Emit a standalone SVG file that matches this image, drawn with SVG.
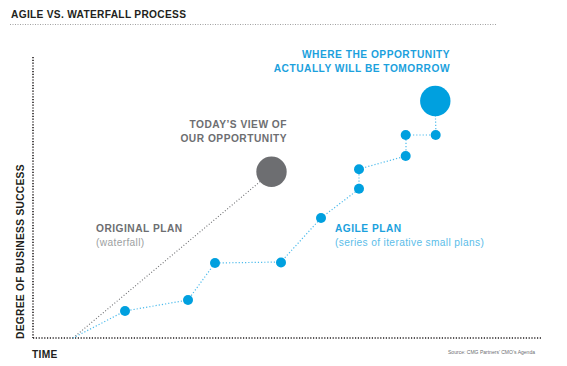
<svg xmlns="http://www.w3.org/2000/svg" width="567" height="366" viewBox="0 0 567 366">
<style>
.h{font-family:"Liberation Sans",Arial,sans-serif;font-weight:bold;font-size:10.2px;letter-spacing:0.5px}
.t{font-family:"Liberation Sans",Arial,sans-serif;font-weight:bold;font-size:10.2px;letter-spacing:0.3px}
.s{font-family:"Liberation Sans",Arial,sans-serif;font-size:10.2px;letter-spacing:0.35px}
.axis{fill:none;stroke:#231f20;stroke-width:1.6;stroke-dasharray:1.2 1.6}
.gline{fill:none;stroke:#6d6e71;stroke-width:1.1;stroke-dasharray:1 2}
.bline{fill:none;stroke:#4dbbec;stroke-width:1.2;stroke-dasharray:1.2 2}
.bd{fill:#00a0df}
</style>
<rect width="567" height="366" fill="#fff"/>
<g id="title">
<text class="t" x="11" y="18" fill="#231f20">AGILE VS. WATERFALL PROCESS</text>
<line x1="10" y1="24.5" x2="497" y2="24.5" stroke="#888" stroke-width="0.8" stroke-dasharray="1 1.5"/>
</g>
<g id="axes">
<line class="axis" x1="33" y1="57" x2="33" y2="338"/>
<line class="axis" x1="33" y1="338" x2="541" y2="338"/>
<text class="t" transform="translate(24,339) rotate(-90)" fill="#231f20">DEGREE OF BUSINESS SUCCESS</text>
<text class="t" x="32" y="358" fill="#231f20">TIME</text>
<text x="448" y="354" font-family="'Liberation Sans Narrow','Liberation Sans',sans-serif" font-size="5.5" fill="#6d6e71" textLength="87" lengthAdjust="spacingAndGlyphs">Source: CMG Partners’ CMO’s Agenda</text>
</g>
<g id="connectors">
<line class="gline" x1="73" y1="338" x2="262" y2="180"/>
<polyline class="bline" points="73,338 125,311 188,300 215,263 281,262 321,218 359,189 359,169 406,156 406,135 436,135 435,101"/>
</g>
<g id="today">
<circle cx="271.5" cy="171.7" r="15.2" fill="#6d6e71"/>
<text class="h" x="287" y="128" fill="#6d6e71" text-anchor="end">TODAY’S VIEW OF</text>
<text class="h" x="287" y="142" fill="#6d6e71" text-anchor="end">OUR OPPORTUNITY</text>
</g>
<g id="tomorrow">
<circle cx="435.3" cy="101" r="15.2" class="bd"/>
<text class="h" x="450" y="58" fill="#1ba1dd" text-anchor="end">WHERE THE OPPORTUNITY</text>
<text class="h" x="450" y="72" fill="#1ba1dd" text-anchor="end">ACTUALLY WILL BE TOMORROW</text>
</g>
<g id="original">
<text class="h" x="96" y="232" fill="#6d6e71">ORIGINAL PLAN</text>
<text class="s" x="96" y="246" fill="#9d9fa2">(waterfall)</text>
</g>
<g id="agile">
<text class="h" x="335" y="232" fill="#1ba1dd">AGILE PLAN</text>
<text class="s" x="335" y="246" fill="#5bbde9">(series of iterative small plans)</text>
</g>
<g id="steps">
<circle class="bd" cx="125" cy="311" r="5"/>
<circle class="bd" cx="188" cy="300" r="5"/>
<circle class="bd" cx="215" cy="263" r="5"/>
<circle class="bd" cx="281" cy="262.5" r="5"/>
<circle class="bd" cx="321" cy="218" r="5"/>
<circle class="bd" cx="359" cy="188.7" r="5"/>
<circle class="bd" cx="359" cy="169.3" r="5"/>
<circle class="bd" cx="405.7" cy="156" r="5"/>
<circle class="bd" cx="405.7" cy="135" r="5"/>
<circle class="bd" cx="435.7" cy="135" r="5"/>
</g>
</svg>
